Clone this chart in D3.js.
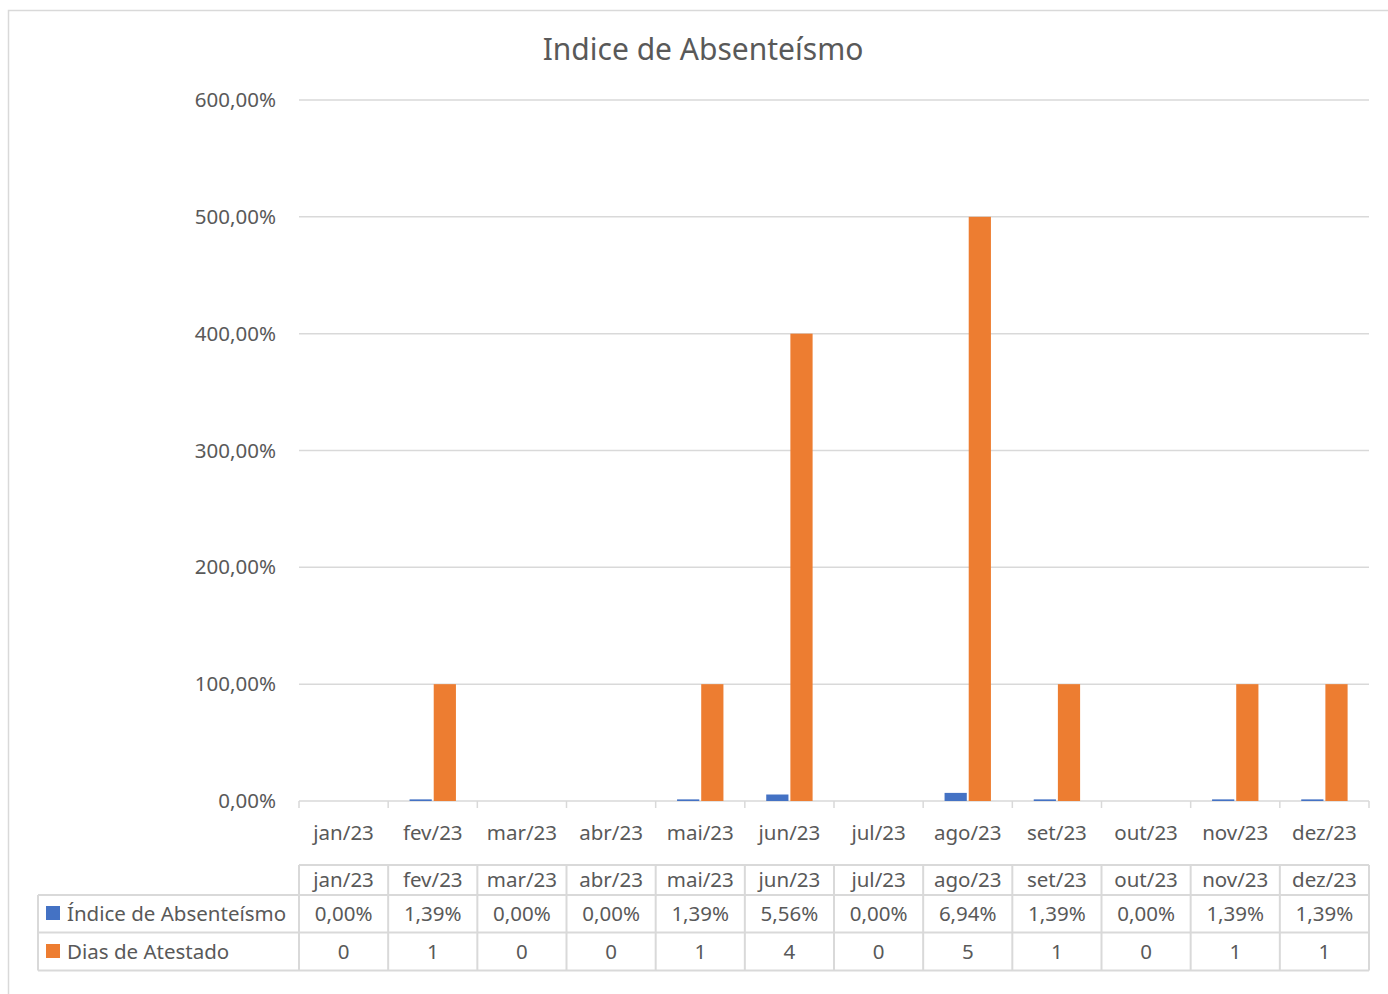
<!DOCTYPE html>
<html>
<head>
<meta charset="utf-8">
<script src="https://cdn.jsdelivr.net/npm/d3@7"></script>
<style>
  body { margin: 0; background: #fff; }
  svg { font-family: "Noto Sans", "Open Sans", sans-serif; }
</style>
</head>
<body>
<svg></svg>
<script>
const months = ["jan/23", "fev/23", "mar/23", "abr/23", "mai/23", "jun/23",
    "jul/23", "ago/23", "set/23", "out/23", "nov/23", "dez/23"];
// Índice de Absenteísmo (fractions)
const indice = [0, 0.0139, 0, 0, 0.0139, 0.0556, 0, 0.0694, 0.0139, 0, 0.0139, 0.0139];
// Dias de Atestado (plotted as 1 = 100%)
const dias = [0, 1, 0, 0, 1, 4, 0, 5, 1, 0, 1, 1];
const yTicks = [0, 1, 2, 3, 4, 5, 6];

const seriesNames = ["Índice de Absenteísmo", "Dias de Atestado"];
const colors = ["#4472C4", "#ED7D31"];

const W = 1388, H = 994;
const svg = d3.select("svg").attr("width", W).attr("height", H);

const gray = "#595959", line = "#d9d9d9";
const fs = 20.5;
const fmtPct = v => d3.format(".2f")(v * 100).replace(".", ",") + "%";

// chart border
svg.append("rect")
    .attr("x", 8.5).attr("y", 10.5)
    .attr("width", W).attr("height", H)
    .attr("fill", "none").attr("stroke", line).attr("stroke-width", 1.5);

svg.append("text")
    .attr("x", 703).attr("y", 60)
    .attr("text-anchor", "middle")
    .attr("font-size", 30).attr("fill", gray)
    .text("Indice de Absenteísmo");

const pLeft = 299, pRight = 1369, pTop = 100, pBottom = 801;

const x = d3.scaleBand().domain(months).range([pLeft, pRight]);
const y = d3.scaleLinear().domain([0, 6]).range([pBottom, pTop]);
const inner = d3.scaleBand().domain([0, 1])
    .range([x.bandwidth() * 0.24, x.bandwidth() * 0.76]).paddingInner(0.08);

// grid
svg.append("g").selectAll("line")
    .data(yTicks)
    .join("line")
    .attr("x1", pLeft).attr("x2", pRight)
    .attr("y1", d => y(d)).attr("y2", d => y(d))
    .attr("stroke", line).attr("stroke-width", 1.5);

svg.append("g").selectAll("text")
    .data(yTicks)
    .join("text")
    .attr("x", 276).attr("y", d => y(d) + 7)
    .attr("text-anchor", "end")
    .attr("font-size", fs).attr("fill", gray)
    .text(d => fmtPct(d));

// bars
const rows = months.map((m, i) => ({ m, vals: [indice[i], dias[i]] }));
const groups = svg.append("g").selectAll("g")
    .data(rows)
    .join("g")
    .attr("transform", d => `translate(${x(d.m)},0)`);

groups.selectAll("rect")
    .data(d => d.vals.map((v, k) => ({ v, k })))
    .join("rect")
    .attr("x", d => inner(d.k))
    .attr("width", inner.bandwidth())
    .attr("y", d => y(d.v))
    .attr("height", d => pBottom - y(d.v))
    .attr("fill", d => colors[d.k]);

// x axis ticks
const bounds = d3.range(months.length + 1).map(i => pLeft + i * x.step());
svg.append("g").selectAll("line")
    .data(bounds)
    .join("line")
    .attr("x1", d => d).attr("x2", d => d)
    .attr("y1", pBottom).attr("y2", pBottom + 7)
    .attr("stroke", line).attr("stroke-width", 1.5);

svg.append("g").selectAll("text")
    .data(months)
    .join("text")
    .attr("x", d => x(d) + x.bandwidth() / 2).attr("y", 840)
    .attr("text-anchor", "middle")
    .attr("font-size", fs).attr("fill", gray)
    .text(d => d);

// data table
const tTop = 865, r1 = 895, r2 = 932.5, r3 = 970.5, tLeft = 38;
const tbl = svg.append("g").attr("stroke", line).attr("stroke-width", 2).attr("fill", "none");
tbl.append("line").attr("x1", pLeft).attr("x2", pRight).attr("y1", tTop).attr("y2", tTop);
[r1, r2, r3].forEach(yy =>
    tbl.append("line").attr("x1", tLeft).attr("x2", pRight).attr("y1", yy).attr("y2", yy));
tbl.append("line").attr("x1", tLeft).attr("x2", tLeft).attr("y1", r1).attr("y2", r3);
bounds.forEach(b =>
    tbl.append("line").attr("x1", b).attr("x2", b).attr("y1", tTop).attr("y2", r3));

svg.append("g").selectAll("text")
    .data(months)
    .join("text")
    .attr("x", d => x(d) + x.bandwidth() / 2).attr("y", 887)
    .attr("text-anchor", "middle")
    .attr("font-size", fs).attr("fill", gray)
    .text(d => d);

const tableRows = [indice.map(fmtPct), dias.map(String)];
const rowY = [921, 959];
tableRows.forEach((vals, k) => {
    svg.append("rect")
        .attr("x", 46).attr("y", rowY[k] - 15)
        .attr("width", 14).attr("height", 14)
        .attr("fill", colors[k]);
    svg.append("text")
        .attr("x", 67).attr("y", rowY[k])
        .attr("font-size", fs).attr("fill", gray)
        .text(seriesNames[k]);
    svg.append("g").selectAll("text")
        .data(vals)
        .join("text")
        .attr("x", (d, i) => x(months[i]) + x.bandwidth() / 2).attr("y", rowY[k])
        .attr("text-anchor", "middle")
        .attr("font-size", fs).attr("fill", gray)
        .text(d => d);
});
</script>
</body>
</html>
